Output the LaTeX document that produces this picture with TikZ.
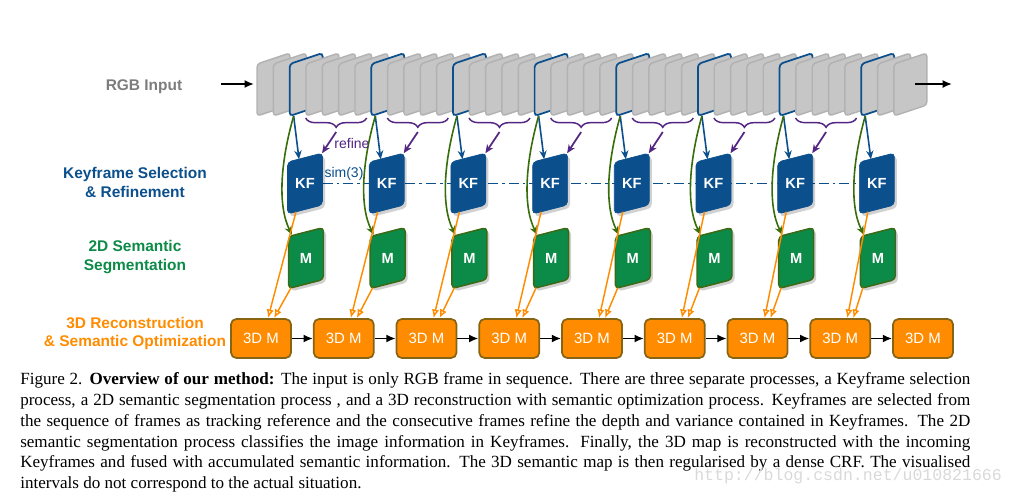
\documentclass[tikz,border=0pt]{standalone}
\usepackage{fontspec}
\setmainfont{Liberation Serif}
\setsansfont{Liberation Sans}
\setmonofont{Liberation Mono}
\usetikzlibrary{arrows.meta,calc,decorations.pathreplacing}
\pgfdeclarelayer{background}
\pgfsetlayers{background,main}

\definecolor{kfblue}{RGB}{11,79,140}
\definecolor{segreen}{RGB}{12,138,72}
\definecolor{segline}{RGB}{60,105,20}
\definecolor{arrgreen}{RGB}{55,110,10}
\definecolor{recorange}{RGB}{255,140,0}
\definecolor{recline}{RGB}{135,100,20}
\definecolor{frmgray}{RGB}{198,198,198}
\definecolor{frmline}{RGB}{178,178,178}
\definecolor{refpurple}{RGB}{82,38,130}
\definecolor{lbgray}{RGB}{125,125,125}

\tikzset{
  frm/.style={fill=frmgray,draw=frmline,line width=1.1pt,rounded corners=2.5pt},
  kffrm/.style={frm,draw=kfblue,line width=1.3pt},
  shd/.style={fill=black,opacity=0.18,rounded corners=3pt},
  kfshape/.style={fill=kfblue,draw=kfblue,line width=0.5pt,rounded corners=3pt},
  segshape/.style={fill=segreen,draw=segline,line width=1.1pt,rounded corners=3pt},
  lettr/.style={inner sep=0pt,minimum width=26.25pt,minimum height=39pt,text=white,
    font=\sffamily\bfseries\fontsize{11}{11}\selectfont},
  recbox/.style={rectangle,fill=recorange,draw=recline,line width=1.3pt,rounded corners=4pt,
    inner sep=0pt,minimum width=45pt,minimum height=29.25pt,text=white,
    font=\sffamily\fontsize{11.2}{11.2}\selectfont},
  rowlbl/.style={font=\sffamily\bfseries\fontsize{11.6}{14.2}\selectfont,align=center},
  smalllbl/.style={font=\sffamily\fontsize{10.5}{10.5}\selectfont},
  selarr/.style={-{Stealth[length=6.5pt,width=5.5pt]},kfblue,line width=1.2pt},
  segarr/.style={-{Stealth[length=6.5pt,width=5.5pt]},arrgreen,line width=1.2pt},
  refarr/.style={-{Stealth[length=6.5pt,width=5.5pt]},refpurple,line width=1.3pt},
  fusearr/.style={-{Latex[open,length=6.5pt,width=5.5pt]},recorange,line width=1.1pt},
  nextarr/.style={-{Latex[length=7pt,width=6pt]},black,line width=1.3pt},
  simline/.style={kfblue,line width=1.4pt,dash pattern=on 7.5pt off 3pt on 2pt off 3pt},
  brc/.style={refpurple,line width=1.1pt,decorate,decoration={brace,amplitude=7pt}},
}

\begin{document}
\begin{tikzpicture}[x=0.75pt,y=0.75pt,yscale=-1,xscale=1]
\useasboundingbox (0,0) rectangle (1016,496);

% RGB frames
\foreach \i in {0,...,39}{
  \pgfmathsetmacro\fx{257+16.33*\i}
  \pgfmathtruncatemacro\isk{(\i>1)&&(mod(\i-2,5)==0)}
  \ifnum\isk=1
    \draw[kffrm] (\fx,90) -- (\fx,64) -- (\fx+33,53) -- (\fx+33,105) -- (\fx,116) -- cycle;
    \pgfmathtruncatemacro\k{(\i-2)/5}
    \coordinate (kfr\k) at (\fx+4,116);
  \else
    \draw[frm] (\fx,90) -- (\fx,64) -- (\fx+33,53) -- (\fx+33,105) -- (\fx,116) -- cycle;
  \fi
}

% braces under the frames between keyframes
\foreach \k in {0,...,6}{
  \pgfmathsetmacro\fx{289.66+81.65*\k}
  \draw[brc] (\fx+77,118) -- (\fx+16,118);
  \coordinate (bt\k) at (\fx+46.5,132);
}

% keyframes, segmentations, 3D maps
\foreach \k in {0,...,7}{
  \pgfmathsetmacro\cx{305+81.7*\k}
  \pgfmathsetmacro\mx{306+81.7*\k}
  \pgfmathsetmacro\bx{261+82.75*\k}
  \fill[shd] (\cx-15,186.5) -- (\cx-15,165) -- (\cx+20,156) -- (\cx+20,208) -- (\cx-15,217) -- cycle;
  \draw[kfshape] (\cx-17.5,183.5) -- (\cx-17.5,162) -- (\cx+17.5,153) -- (\cx+17.5,205) -- (\cx-17.5,214) -- cycle;
  \node[lettr] (kf\k) at (\cx,183.5) {KF};
  \fill[shd] (\mx-15,261) -- (\mx-15,239.5) -- (\mx+20,230.5) -- (\mx+20,282.5) -- (\mx-15,291.5) -- cycle;
  \draw[segshape] (\mx-17.5,258) -- (\mx-17.5,236.5) -- (\mx+17.5,227.5) -- (\mx+17.5,279.5) -- (\mx-17.5,288.5) -- cycle;
  \node[lettr] (seg\k) at (\mx,258) {M};
  \node[recbox] (rec\k) at (\bx,338.5) {3D M};
}
\node[recbox] (rec8) at (923,338.5) {3D M};

% sim(3) chain
\begin{pgfonlayer}{background}
\draw[simline] (kf0.east) -- (kf7.west);
\end{pgfonlayer}

% arrows
\foreach \k in {0,...,7}{
  \draw[selarr] (kfr\k) -- ($(kf\k.north)+(-6,2)$);
  \draw[segarr] (kfr\k) .. controls ($(kf\k)+(-24,-23.5)$) and ($(kf\k)+(-28,21.5)$) .. ($(seg\k.north)+(-14,3)$);
  \draw[fusearr] ($(kf\k.south)+(-9,2)$) -- ($(rec\k.north)+(7,0)$);
  \draw[fusearr] ($(seg\k.south)+(-15,3.5)$) -- ($(rec\k.north)+(13,0)$);
}
\foreach \k in {0,...,6}{
  \draw[refarr] (bt\k) -- ($(kf\k.north)+(17,-4)$);
}
\foreach \n [count=\j from 0] in {1,...,8}{
  \draw[nextarr] (rec\j.east) -- (rec\n.west);
}

% input / output
\coordinate (inS) at (221,84);
\coordinate (inE) at (254,84);
\coordinate (outS) at (915,84);
\coordinate (outE) at (952,84);
\draw[nextarr] (inS) -- (inE);
\draw[nextarr] (outS) -- (outE);

% Text Node
\node[smalllbl,text=refpurple] (refine) at (352,143) {refine};
\node[smalllbl,text=kfblue] (simlbl) at (344,173.5) {sim(3)};

\node[rowlbl,text=lbgray] (rgblbl) at (144,87) {RGB Input};
\node[rowlbl,text=kfblue] (kflbl) at (135,182.5) {Keyframe Selection\\\& Refinement};
\node[rowlbl,text=segreen] (seglbl) at (135,257) {2D Semantic\\Segmentation};
\node[rowlbl,text=recorange] (reclbl) at (135,333.5) {3D Reconstruction\\\& Semantic Optimization};

% caption
\node[anchor=north west,inner sep=0pt,text width=712.5pt,align=justify,
  font=\fontsize{12.8}{15.6}\selectfont] (caption) at (20,372.5)
  {Figure 2. \textbf{Overview of our method:} The input is only RGB frame in sequence. There are three separate processes, a Keyframe selection\linebreak
  process, a 2D semantic segmentation process , and a 3D reconstruction with semantic optimization process. Keyframes are selected from\linebreak
  the sequence of frames as tracking reference and the consecutive frames refine the depth and variance contained in Keyframes. The 2D\linebreak
  semantic segmentation process classifies the image information in Keyframes. Finally, the 3D map is reconstructed with the incoming\linebreak
  Keyframes and fused with accumulated semantic information. The 3D semantic map is then regularised by a dense CRF. The visualised\linebreak
  intervals do not correspond to the actual situation.};

\node[anchor=west,inner sep=0pt,text=black!15,font=\ttfamily\fontsize{12.4}{12.4}\selectfont] (wmark) at (694,476) {http://blog.csdn.net/u010821666};

\end{tikzpicture}
\end{document}
